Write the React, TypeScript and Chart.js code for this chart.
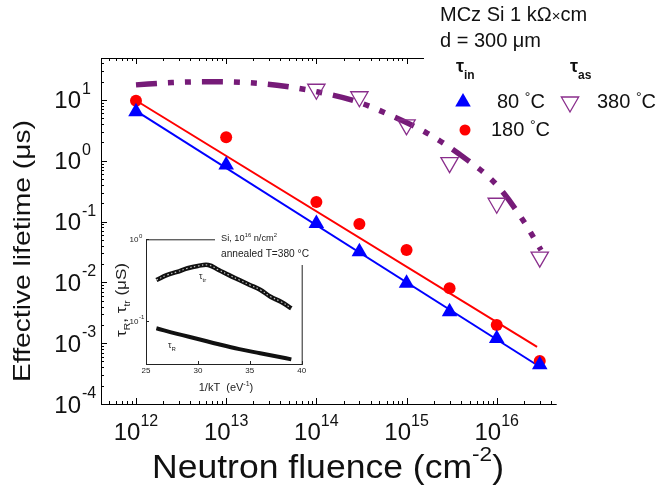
import React, { useEffect, useRef } from 'react';
import { Chart, registerables } from 'chart.js';
Chart.register(...registerables);

const FONT = '"Liberation Sans", Arial, sans-serif';

// ---- main chart data ----
const fluence = [1e12, 1e13, 1e14, 3e14, 1e15, 3e15, 1e16, 3e16];
const tau80 = [6.4, 0.85, 0.093, 0.032, 0.0097, 0.0033, 0.0012, 0.00044];
const tau180 = [9.7, 2.43, 0.21, 0.091, 0.034, 0.008, 0.002, 0.00051];
const fluenceAs = [1e14, 3e14, 1e15, 3e15, 1e16, 3e16];
const tau380 = [15, 11.3, 3.9, 0.93, 0.2, 0.026];
const fit80X = [1e12, 3e16];
const fit80Y = [6.6, 0.00041];
const fit180X = [1e12, 2.8e16];
const fit180Y = [9.8, 0.00087];
const guideX = [1e12, 2.5e12, 7.2e12, 2.2e13, 4.7e13, 1e14, 2.8e14, 7.2e14, 1.7e15, 4.2e15, 1e16, 2e16, 3.1e16];
const guideY = [17.7, 19.3, 20, 18.8, 16.6, 13.7, 9.4, 5.3, 2.83, 1.17, 0.4, 0.1, 0.034];
const xTickExps = [12, 13, 14, 15, 16];
const yTickExps = [1, 0, -1, -2, -3, -4];

// ---- inset data ----
const invKT = [26, 27, 28, 29, 30, 31, 32, 33, 34, 35, 36, 37, 38, 39];
const tauTr = [0.316, 0.363, 0.398, 0.441, 0.47, 0.483, 0.42, 0.363, 0.316, 0.275, 0.24, 0.197, 0.171, 0.142];
const invKTR = [26, 28, 30, 32, 34, 36, 38, 39];
const tauR = [0.0807, 0.069, 0.0596, 0.0513, 0.0447, 0.0398, 0.0355, 0.0335];
const insetXTicks = [25, 30, 35, 40];
const insetYTickExps = [0, -1];

const W = 660;
const H = 489;

type Part = { t: string; size: number; dy?: number; bold?: boolean };

function fontOf(p: Part) {
  return `${p.bold ? 'bold ' : ''}${p.size}px ${FONT}`;
}
function measureParts(ctx: CanvasRenderingContext2D, parts: Part[]) {
  let w = 0;
  for (const p of parts) {
    ctx.font = fontOf(p);
    w += ctx.measureText(p.t).width;
  }
  return w;
}
function drawParts(
  ctx: CanvasRenderingContext2D,
  parts: Part[],
  x: number,
  y: number,
  align: 'left' | 'center' | 'right',
  target?: number
) {
  const w = measureParts(ctx, parts);
  const sx = target ? target / w : 1;
  const total = w * sx;
  const start = align === 'left' ? x : align === 'center' ? x - total / 2 : x - total;
  ctx.save();
  ctx.translate(start, y);
  ctx.scale(sx, 1);
  ctx.textAlign = 'left';
  ctx.textBaseline = 'alphabetic';
  let cx = 0;
  for (const p of parts) {
    ctx.font = fontOf(p);
    ctx.fillText(p.t, cx, p.dy || 0);
    cx += ctx.measureText(p.t).width;
  }
  ctx.restore();
}
function line(ctx: CanvasRenderingContext2D, x1: number, y1: number, x2: number, y2: number) {
  ctx.beginPath();
  ctx.moveTo(x1, y1);
  ctx.lineTo(x2, y2);
  ctx.stroke();
}
function triangle(ctx: CanvasRenderingContext2D, x: number, y: number, r: number, down: boolean) {
  const s = down ? -1 : 1;
  ctx.beginPath();
  ctx.moveTo(x, y - s * r);
  ctx.lineTo(x + r * 0.866, y + s * r * 0.5);
  ctx.lineTo(x - r * 0.866, y + s * r * 0.5);
  ctx.closePath();
}

const BLUE = '#0000ff';
const RED = '#ff0000';
const PURPLE = '#8a2e8c';
const PURPLE_LINE = '#761b78';
const TOP_AXIS_END = 424;

const mainDecor = {
  id: 'mainDecor',
  beforeDatasetsDraw(chart: any) {
    const ctx: CanvasRenderingContext2D = chart.ctx;
    const { left, right, top, bottom } = chart.chartArea;
    const xs = chart.scales.x;
    const ys = chart.scales.y;
    ctx.save();
    ctx.strokeStyle = '#000';
    ctx.lineWidth = 1;
    line(ctx, left + 0.5, top, left + 0.5, bottom + 1);
    line(ctx, left, bottom + 0.5, right, bottom + 0.5);
    line(ctx, left, top + 0.5, TOP_AXIS_END, top + 0.5);
    for (let e = 11; e <= 16; e++) {
      for (let m = 1; m <= 9; m++) {
        const v = m * Math.pow(10, e);
        if (v < xs.min || v > xs.max) continue;
        const px = Math.round(xs.getPixelForValue(v)) + 0.5;
        const len = m === 1 ? 6 : 3;
        line(ctx, px, bottom, px, bottom - len);
        if (px <= TOP_AXIS_END) line(ctx, px, top, px, top + len);
      }
    }
    for (let e = -4; e <= 1; e++) {
      for (let m = 1; m <= 9; m++) {
        const v = m * Math.pow(10, e);
        if (v < ys.min * 0.999 || v > ys.max) continue;
        const py = Math.round(ys.getPixelForValue(v)) + 0.5;
        const len = m === 1 ? 6 : 3;
        line(ctx, left, py, left + len, py);
      }
    }
    ctx.restore();
  },
  afterDraw(chart: any) {
    const ctx: CanvasRenderingContext2D = chart.ctx;
    const xs = chart.scales.x;
    const ys = chart.scales.y;
    ctx.save();
    ctx.fillStyle = '#111';
    for (const e of xTickExps) {
      const px = xs.getPixelForValue(Math.pow(10, e));
      drawParts(ctx, [{ t: '10', size: 24 }, { t: String(e), size: 16, dy: -14 }], px, 440, 'center');
    }
    for (const e of yTickExps) {
      const py = ys.getPixelForValue(Math.pow(10, e));
      drawParts(ctx, [{ t: '10', size: 24 }], 81, py + 8.5, 'right');
      drawParts(ctx, [{ t: String(e), size: 16 }], 82, py - 6, 'left');
    }
    drawParts(
      ctx,
      [
        { t: 'Neutron fluence (cm', size: 33 },
        { t: '-2', size: 21, dy: -17 },
        { t: ')', size: 33 },
      ],
      328,
      478,
      'center',
      352
    );
    ctx.save();
    ctx.translate(30, 251);
    ctx.rotate(-Math.PI / 2);
    drawParts(ctx, [{ t: 'Effective lifetime (μs)', size: 24 }], 0, 0, 'center', 262);
    ctx.restore();

    drawParts(ctx, [{ t: 'MCz Si 1 kΩ', size: 20 }, { t: '×', size: 15 }, { t: 'cm', size: 20 }], 440, 21, 'left');
    drawParts(ctx, [{ t: 'd = 300 μm', size: 20 }], 440, 47, 'left');
    drawParts(ctx, [{ t: 'τ', size: 18, bold: true }, { t: 'in', size: 12, bold: true, dy: 7 }], 456, 72, 'left');
    drawParts(ctx, [{ t: 'τ', size: 18, bold: true }, { t: 'as', size: 12, bold: true, dy: 7 }], 570, 72, 'left');
    ctx.fillStyle = BLUE;
    triangle(ctx, 463, 102, 9, false);
    ctx.fill();
    ctx.strokeStyle = PURPLE;
    ctx.lineWidth = 1.3;
    triangle(ctx, 570, 102, 10, true);
    ctx.stroke();
    ctx.fillStyle = RED;
    ctx.beginPath();
    ctx.arc(465, 130, 5.5, 0, Math.PI * 2);
    ctx.fill();
    ctx.fillStyle = '#111';
    drawParts(ctx, [{ t: '80 ', size: 20 }, { t: '°', size: 14, dy: -6 }, { t: 'C', size: 20 }], 497, 108, 'left');
    drawParts(ctx, [{ t: '380 ', size: 20 }, { t: '°', size: 14, dy: -6 }, { t: 'C', size: 20 }], 597, 108, 'left');
    drawParts(ctx, [{ t: '180 ', size: 20 }, { t: '°', size: 14, dy: -6 }, { t: 'C', size: 20 }], 491, 136, 'left');
    ctx.restore();
  },
};

const insetDecor = {
  id: 'insetDecor',
  beforeDatasetsDraw(chart: any) {
    const ctx: CanvasRenderingContext2D = chart.ctx;
    const { left, right, top, bottom } = chart.chartArea;
    const xs = chart.scales.x;
    const ys = chart.scales.y;
    ctx.save();
    ctx.strokeStyle = '#222';
    ctx.lineWidth = 1;
    line(ctx, left + 0.5, top, left + 0.5, bottom + 1);
    line(ctx, left, bottom + 0.5, right + 1, bottom + 0.5);
    line(ctx, left, top + 0.5, 215, top + 0.5);
    line(ctx, right + 0.5, 265, right + 0.5, bottom + 1);
    for (const v of insetXTicks) {
      const px = Math.round(xs.getPixelForValue(v)) + 0.5;
      line(ctx, px, bottom, px, bottom - 3);
    }
    for (const e of insetYTickExps) {
      const py = Math.round(ys.getPixelForValue(Math.pow(10, e))) + 0.5;
      line(ctx, left, py, left + 3, py);
    }
    ctx.restore();
  },
  afterDraw(chart: any) {
    const ctx: CanvasRenderingContext2D = chart.ctx;
    const xs = chart.scales.x;
    const ys = chart.scales.y;
    ctx.save();
    ctx.fillStyle = '#222';
    for (const v of insetXTicks) {
      const px = xs.getPixelForValue(v);
      drawParts(ctx, [{ t: String(v), size: 8 }], px, 373, 'center');
    }
    for (const e of insetYTickExps) {
      const py = ys.getPixelForValue(Math.pow(10, e));
      drawParts(ctx, [{ t: '10', size: 8 }], 138.5, py + 3, 'right');
      drawParts(ctx, [{ t: String(e), size: 6 }], 139, py - 1.5, 'left');
    }
    drawParts(
      ctx,
      [
        { t: '1/kT  (eV', size: 11 },
        { t: '-1', size: 7, dy: -5 },
        { t: ')', size: 11 },
      ],
      226,
      391,
      'center'
    );
    ctx.save();
    ctx.translate(126, 300);
    ctx.rotate(-Math.PI / 2);
    drawParts(
      ctx,
      [
        { t: 'τ', size: 15 },
        { t: 'R', size: 9, dy: 4 },
        { t: ', τ', size: 15 },
        { t: 'tr', size: 9, dy: 4 },
        { t: ' (μS)', size: 15 },
      ],
      0,
      0,
      'center',
      74
    );
    ctx.restore();
    drawParts(
      ctx,
      [
        { t: 'Si, 10', size: 9.5 },
        { t: '16', size: 6, dy: -4 },
        { t: ' n/cm', size: 9.5 },
        { t: '2', size: 6, dy: -4 },
      ],
      221,
      241,
      'left',
      56
    );
    drawParts(ctx, [{ t: 'annealed T=380 °C', size: 10 }], 221, 257, 'left', 88);
    drawParts(ctx, [{ t: 'τ', size: 9 }, { t: 'tr', size: 6, dy: 3 }], 199, 279, 'left');
    drawParts(ctx, [{ t: 'τ', size: 9 }, { t: 'R', size: 6, dy: 3 }], 168, 348, 'left');
    ctx.restore();
  },
};

function pts(xs: number[], ys: number[]) {
  return xs.map((x, i) => ({ x, y: ys[i] }));
}

export default function App() {
  const mainRef = useRef<HTMLCanvasElement>(null);
  const insetRef = useRef<HTMLCanvasElement>(null);

  useEffect(() => {
    const main = new Chart(mainRef.current as HTMLCanvasElement, {
      type: 'scatter',
      data: {
        datasets: [
          {
            label: '80 °C',
            data: pts(fluence, tau80),
            pointStyle: 'triangle',
            pointRadius: 9,
            backgroundColor: BLUE,
            borderColor: BLUE,
            borderWidth: 0,
          },
          {
            label: '180 °C',
            data: pts(fluence, tau180),
            pointStyle: 'circle',
            pointRadius: 6,
            backgroundColor: RED,
            borderColor: RED,
            borderWidth: 0,
          },
          {
            label: '380 °C',
            data: pts(fluenceAs, tau380),
            pointStyle: 'triangle',
            rotation: 180,
            pointRadius: 10,
            backgroundColor: 'rgba(255,255,255,0)',
            borderColor: PURPLE,
            borderWidth: 1.3,
          },
          {
            label: 'fit 80',
            data: pts(fit80X, fit80Y),
            showLine: true,
            pointRadius: 0,
            borderColor: BLUE,
            borderWidth: 2,
          },
          {
            label: 'fit 180',
            data: pts(fit180X, fit180Y),
            showLine: true,
            pointRadius: 0,
            borderColor: RED,
            borderWidth: 2,
          },
          {
            label: 'guide',
            data: pts(guideX, guideY),
            showLine: true,
            pointRadius: 0,
            borderColor: PURPLE_LINE,
            borderWidth: 5.5,
            borderDash: [21, 11, 6, 11, 6, 11],
            borderCapStyle: 'butt',
            cubicInterpolationMode: 'monotone',
          },
        ],
      } as any,
      options: {
        responsive: false,
        animation: false,
        devicePixelRatio: 1,
        layout: { padding: { left: 101, top: 58, right: W - 556.7, bottom: H - 404 } },
        plugins: { legend: { display: false }, tooltip: { enabled: false } },
        scales: {
          x: { type: 'logarithmic', display: false, min: Math.pow(10, 11.612), max: Math.pow(10, 16.665) },
          y: { type: 'logarithmic', display: false, min: 1e-4, max: Math.pow(10, 1.69) },
        },
        clip: false,
      } as any,
      plugins: [mainDecor],
    });

    const inset = new Chart(insetRef.current as HTMLCanvasElement, {
      type: 'scatter',
      data: {
        datasets: [
          {
            label: 'tau_tr texture',
            data: pts(invKT, tauTr),
            showLine: true,
            pointRadius: 0,
            borderColor: 'rgba(255,255,255,0.75)',
            borderWidth: 1.2,
            borderDash: [1.5, 2.5],
            tension: 0.4,
          },
          {
            label: 'tau_tr',
            data: pts(invKT, tauTr),
            showLine: true,
            pointRadius: 0,
            borderColor: '#111',
            borderWidth: 4.5,
            tension: 0.4,
          },
          {
            label: 'tau_R',
            data: pts(invKTR, tauR),
            showLine: true,
            pointRadius: 0,
            borderColor: '#111',
            borderWidth: 4,
            tension: 0.4,
          },
        ],
      } as any,
      options: {
        responsive: false,
        animation: false,
        devicePixelRatio: 1,
        layout: { padding: { left: 146, top: 239.3, right: W - 301.7, bottom: H - 364 } },
        plugins: { legend: { display: false }, tooltip: { enabled: false } },
        scales: {
          x: { type: 'linear', display: false, min: 25, max: 40 },
          y: { type: 'logarithmic', display: false, min: Math.pow(10, -1.532), max: 1 },
        },
      } as any,
      plugins: [insetDecor],
    });

    return () => {
      main.destroy();
      inset.destroy();
    };
  }, []);

  const cstyle: React.CSSProperties = { position: 'absolute', left: 0, top: 0, width: W, height: H };
  return (
    <div style={{ position: 'absolute', left: 0, top: 0, width: W, height: H, background: '#fff' }}>
      <canvas ref={mainRef} width={W} height={H} style={cstyle} />
      <canvas ref={insetRef} width={W} height={H} style={cstyle} />
    </div>
  );
}
